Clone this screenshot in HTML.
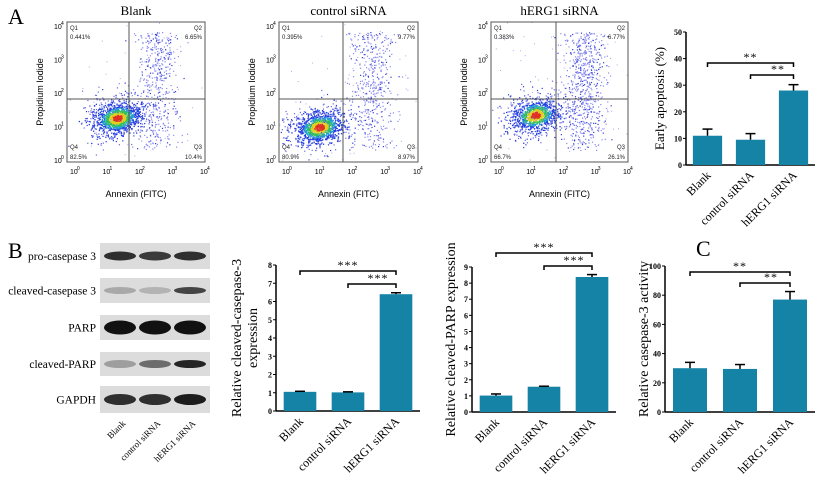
<!DOCTYPE html>
<html><head><meta charset="utf-8"><style>
body{margin:0;background:#fff;}
svg{display:block;font-family:"Liberation Serif",serif;}
.sans{font-family:"Liberation Sans",sans-serif;}
</style></head><body>
<svg id="fig" width="824" height="486" viewBox="0 0 824 486" xmlns="http://www.w3.org/2000/svg">
<text x="8" y="24" font-size="22">A</text>
<text x="8" y="258" font-size="22">B</text>
<text x="696" y="256" font-size="22">C</text>
<g id="flow"></g>
<g id="blot"></g>
<g id="bars"></g>
</svg>
<script>
const NS="http://www.w3.org/2000/svg";
const groups=["Blank","control siRNA","hERG1 siRNA"];
// Flow cytometry quadrant percentages
const flowTitles=["Blank","control siRNA","hERG1 siRNA"];
const q1=["0.441%","0.395%","0.383%"];
const q2=["6.65%","9.77%","6.77%"];
const q3=["10.4%","8.97%","26.1%"];
const q4=["82.5%","80.9%","66.7%"];
// Bar chart data
const earlyMean=[11,9.5,28];
const earlyErr=[2.5,2.3,2.2];
const c3Mean=[1.05,1.02,6.4];
const c3Err=[0.03,0.03,0.08];
const parpMean=[1.02,1.57,8.38];
const parpErr=[0.1,0.03,0.15];
const casMean=[30,29.5,77];
const casErr=[4,3,5.5];
const earlyTicks=[0,10,20,30,40,50];
const c3Ticks=[0,1,2,3,4,5,6,7,8];
const parpTicks=[0,1,2,3,4,5,6,7,8,9];
const casTicks=[0,20,40,60,80,100];

function el(tag,attrs,parent,text){const e=document.createElementNS(NS,tag);for(const k in attrs)e.setAttribute(k,attrs[k]);if(text!==undefined)e.textContent=text;parent.appendChild(e);return e;}

// ---------- flow plots ----------
let seed=12345;function rnd(){seed=(seed*1103515245+12345)%2147483648;return seed/2147483648;}
function gauss(){let u=rnd()||1e-6,v=rnd();return Math.sqrt(-2*Math.log(u))*Math.cos(2*Math.PI*v);}
const flowBoxes=[{l:67,r:205,qx:129},{l:279,r:418,qx:343},{l:491,r:628,qx:556}];
const clusters=[[50,-44],[40,-35],[44,-47]];
const fg=document.getElementById('flow');
const defs=el('defs',{},document.getElementById('fig'));
flowBoxes.forEach((b,i)=>{
  const g=el('g',{},fg);
  
  
  const t=22,bt=162,w=b.r-b.l;
  const cp=el('clipPath',{id:'cp'+i},defs);el('rect',{x:b.l,y:t,width:w,height:140},cp);
  const tt=el('text',{x:(b.l+b.r)/2,y:15,'font-size':13,'text-anchor':'middle'},g,flowTitles[i]);
  
  const pg=el('g',{'clip-path':'url(#cp'+i+')'},g);
  const cx=b.l+clusters[i][0],cy=bt+clusters[i][1];
  for(let k=0;k<50;k++){el('rect',{x:(b.l+rnd()*w).toFixed(1),y:(t+rnd()*140).toFixed(1),width:1,height:1,fill:'#a8a8f0'},pg);}
  const nTail=[450,450,650][i];
  for(let k=0;k<nTail;k++){const x=b.qx+28+gauss()*11,y=bt-12-Math.pow(rnd(),0.8)*118;
    el('rect',{x:x.toFixed(1),y:y.toFixed(1),width:1.2,height:1.2,fill:rnd()<0.75?'#8a8af0':'#3040d0'},pg);}
  for(let k=0;k<500;k++){const dx=gauss()*16,dy=gauss()*10;const x=cx+dx+dy*0.5,y=cy+dy-dx*0.35;
    el('rect',{x:x.toFixed(1),y:y.toFixed(1),width:1.2,height:1.2,fill:rnd()<0.6?'#6a6ae8':'#2a3ad8'},pg);}
  const nMain=[900,800,700][i];
  for(let k=0;k<nMain;k++){const dx=gauss()*9,dy=gauss()*6;const x=cx+dx*1.1+dy*0.6,y=cy+dy-dx*0.4;
    const d=Math.hypot(dx/9,dy/6);const col=d<0.5?'#e03020':d<0.85?'#e0d020':d<1.2?'#30c060':d<1.5?'#20a0d0':'#2040e0';
    el('rect',{x:x.toFixed(1),y:y.toFixed(1),width:1.3,height:1.3,fill:col},pg);}
  el('rect',{x:b.l,y:t,width:w,height:140,fill:'none',stroke:'#555','stroke-width':1},g);
  el('line',{x1:b.qx,y1:t,x2:b.qx,y2:bt,stroke:'#555'},g);
  el('line',{x1:b.l,y1:99,x2:b.r,y2:99,stroke:'#555'},g);
  const fs={'font-size':6,class:'sans',fill:'#222'};
  el('text',Object.assign({x:b.l+3,y:t+8},fs),g,'Q1');
  el('text',Object.assign({x:b.l+3,y:t+17},fs),g,q1[i]);
  el('text',Object.assign({x:b.r-3,y:t+8,'text-anchor':'end'},fs),g,'Q2');
  el('text',Object.assign({x:b.r-3,y:t+17,'text-anchor':'end'},fs),g,q2[i]);
  el('text',Object.assign({x:b.l+3,y:bt-13},fs),g,'Q4');
  el('text',Object.assign({x:b.l+3,y:bt-3},fs),g,q4[i]);
  el('text',Object.assign({x:b.r-3,y:bt-13,'text-anchor':'end'},fs),g,'Q3');
  el('text',Object.assign({x:b.r-3,y:bt-3,'text-anchor':'end'},fs),g,q3[i]);
  for(let d=0;d<=4;d++){
    const x=b.l+6+d*(w-8)/4, y=bt-2-d*(138-4)/4;
    el('text',{x:x-3,y:bt+12,'font-size':7,class:'sans'},g,'10');
    el('text',{x:x+4,y:bt+8,'font-size':5,class:'sans'},g,String(d));
    el('text',{x:b.l-13,y:y+3,'font-size':7,class:'sans'},g,'10');
    el('text',{x:b.l-6,y:y-1,'font-size':5,class:'sans'},g,String(d));
  }
  const xl=el('text',{x:(b.l+b.r)/2,y:197,'font-size':9,class:'sans','text-anchor':'middle'},g,'Annexin (FITC)');
  
  const yl=el('text',{x:0,y:0,'font-size':9,class:'sans','text-anchor':'middle',transform:`translate(${b.l-24},92) rotate(-90)`},g,'Propidium Iodide');
  
});

// ---------- western blot ----------
const bg=document.getElementById('blot');
const blotRows=["pro-casepase 3","cleaved-casepase 3","PARP","cleaved-PARP","GAPDH"];
const blotY=[[243,269],[278,303],[315,340],[352,376],[386,413]];
const bandInt=[[0.85,0.8,0.85],[0.25,0.2,0.75],[1,1,1],[0.3,0.55,0.9],[0.85,0.85,0.95]];
const bandH=[7,5,12,6,9];
blotRows.forEach((name,r)=>{
  const g=el('g',{},bg);
  
  const [y0,y1]=blotY[r];
  el('rect',{x:100,y:y0,width:110,height:y1-y0,fill:'#dcdcdc'},g);
  bandInt[r].forEach((v,j)=>{const cx=120+j*35,cy=(y0+y1)/2;
    el('ellipse',{cx:cx,cy:cy,rx:16,ry:bandH[r]/2+1,fill:'#111','fill-opacity':v},g);});
  el('text',{x:96,y:(y0+y1)/2+4,'font-size':11.5,'text-anchor':'end'},g,name);
});
groups.forEach((gname,j)=>{const t=el('text',{x:0,y:0,'font-size':9,'text-anchor':'end',transform:`translate(${126+j*35},424) rotate(-45)`},bg,gname);
  });

// ---------- bar charts ----------
const barg=document.getElementById('bars');
function barChart(cfg){
  const g=el('g',{},barg);
  
  const ys=v=>cfg.y0-(v-cfg.min)/(cfg.max-cfg.min)*(cfg.y0-cfg.yTop);
  el('line',{x1:cfg.ax,y1:cfg.yTop,x2:cfg.ax,y2:cfg.y0,stroke:'#000','stroke-width':1.5},g);
  el('line',{x1:cfg.ax,y1:cfg.y0,x2:cfg.right,y2:cfg.y0,stroke:'#000','stroke-width':1.5},g);
  cfg.ticks.forEach(t=>{const y=ys(t);el('line',{x1:cfg.ax-3,y1:y,x2:cfg.ax,y2:y,stroke:'#000'},g);
    el('text',{x:cfg.ax-4,y:y+3,'font-size':8,'font-weight':'bold','text-anchor':'end'},g,String(t));});
  const step=(cfg.right-cfg.ax)/3,bw=step*0.68;
  const centers=[];
  cfg.means.forEach((m,i)=>{const cx=cfg.ax+step*(i+0.5);centers.push(cx);
    const r=el('rect',{x:cx-bw/2,y:ys(m),width:bw,height:cfg.y0-ys(m),fill:'#1583a6'},g);
    
    
    const e=ys(m+cfg.errs[i]);
    el('line',{x1:cx,y1:ys(m),x2:cx,y2:e,stroke:'#000','stroke-width':1.5},g);
    el('line',{x1:cx-5,y1:e,x2:cx+5,y2:e,stroke:'#000','stroke-width':1.5},g);
    const lb=el('text',{x:0,y:0,'font-size':12,'text-anchor':'end',transform:`translate(${cx+4},${cfg.y0+11}) rotate(-45)`},g,groups[i]);
    
  });
  [[0,cfg.sig1],[1,cfg.sig2]].forEach(([from,y])=>{
    const x1=centers[from],x2=centers[2];
    el('path',{d:`M${x1},${y+4}V${y}H${x2}V${y+4}`,fill:'none',stroke:'#000','stroke-width':1.5},g);
    el('text',{x:(x1+x2)/2+(from?6:0),y:y-2,'font-size':12,'text-anchor':'middle','letter-spacing':'1'},g,cfg.star);
  });
  const yt=el('text',{x:0,y:0,'font-size':cfg.lfs||13,'text-anchor':'middle',transform:`translate(${cfg.lx},${(cfg.yTop+cfg.y0)/2}) rotate(-90)`},g);
  
  cfg.label.forEach((s,k)=>{el('tspan',{x:0,dy:k?16:0},yt,s);});
}
barChart({name:'early-apoptosis-chart',ax:686,right:815,yTop:32,y0:165,min:0,max:50,ticks:earlyTicks,means:earlyMean,errs:earlyErr,sig1:63,sig2:75,star:'**',lx:664,label:['Early apoptosis (%)']});
barChart({name:'cleaved-caspase3-chart',ax:276,right:420,yTop:265,y0:411,min:0,max:8,ticks:c3Ticks,means:c3Mean,errs:c3Err,sig1:271,sig2:284,star:'***',lx:241,lfs:14,label:['Relative cleaved-casepase-3','expression']});
barChart({name:'cleaved-parp-chart',ax:472,right:616,yTop:267,y0:412,min:0,max:9,ticks:parpTicks,means:parpMean,errs:parpErr,sig1:253,sig2:266,star:'***',lx:455,lfs:14,label:['Relative cleaved-PARP  expression']});
barChart({name:'caspase3-activity-chart',ax:665,right:815,yTop:266,y0:412,min:0,max:100,ticks:casTicks,means:casMean,errs:casErr,sig1:272,sig2:283,star:'**',lx:648,lfs:14,label:['Relative casepase-3 activity']});
</script>
</body></html>
